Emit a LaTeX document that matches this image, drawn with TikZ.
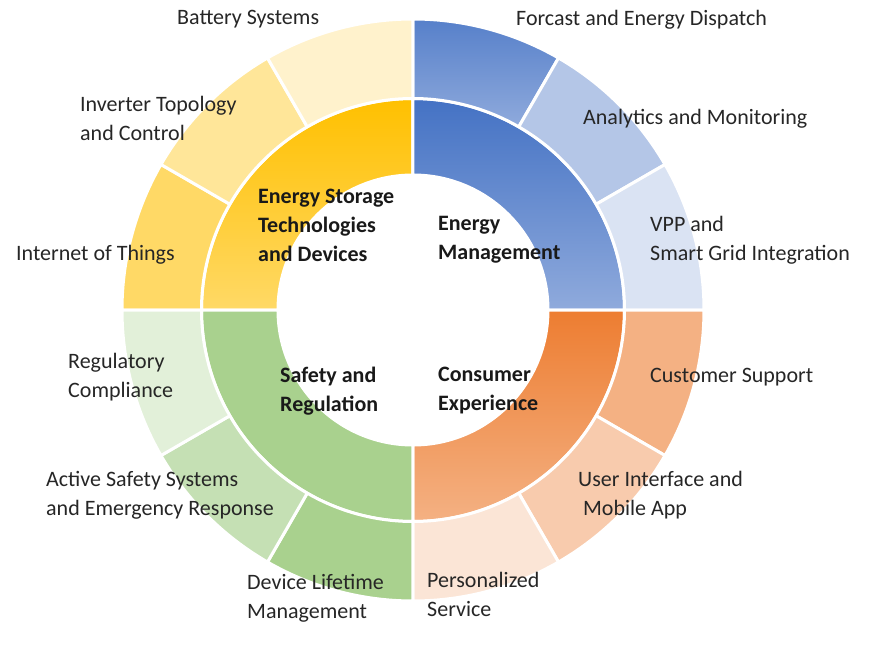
\documentclass[tikz,border=0pt]{standalone}
\usepackage{fontspec}
\setmainfont{Carlito}
\usepackage{xcolor}
\usepackage{tikz}
\usetikzlibrary{calc}

\definecolor{goldA}{HTML}{FFC000}
\definecolor{goldB}{HTML}{FFD966}
\definecolor{goldC}{HTML}{FFE699}
\definecolor{goldD}{HTML}{FFF2CC}
\definecolor{blueA}{HTML}{4472C4}
\definecolor{blueB}{HTML}{8FAADC}
\definecolor{blueC}{HTML}{B4C6E7}
\definecolor{blueD}{HTML}{DAE3F3}
\definecolor{orngA}{HTML}{ED7D31}
\definecolor{orngB}{HTML}{F4B183}
\definecolor{orngC}{HTML}{F8CBAD}
\definecolor{orngD}{HTML}{FBE5D6}
\definecolor{grnB}{HTML}{A9D18E}
\definecolor{grnC}{HTML}{C5E0B4}
\definecolor{grnD}{HTML}{E2F0D9}

\tikzset{
  ringpart/.style={
    draw=white, line width=3pt, line join=round
  },
  segtext/.style={
    anchor=west, align=left, inner sep=0pt,
    font=\fontsize{22}{29}\selectfont, text=black!85
  },
  hubtext/.style={
    segtext, font=\fontsize{22}{29}\selectfont\bfseries, text=black!90
  },
}

% r-in, r-out, start, end, style
\newcommand{\ringseg}[5]{%
  \path[ringpart, #5] (#3:#1) -- (#3:#2)
    arc[start angle=#3, end angle=#4, radius=#2] -- (#4:#1)
    arc[start angle=#4, end angle=#3, radius=#1] -- cycle;}

\begin{document}
\begin{tikzpicture}[x=1pt, y=1pt]
  \useasboundingbox (-413,-336) rectangle (457,310);

  % Inner ring
  \ringseg{135}{211.5}{90}{180}{top color=goldA, bottom color=goldB}
  \ringseg{135}{211.5}{0}{90}{top color=blueA, bottom color=blueB}
  \ringseg{135}{211.5}{-90}{0}{top color=orngA, bottom color=orngB}
  \ringseg{135}{211.5}{180}{270}{fill=grnB}

  % Outer ring
  \ringseg{211.5}{291}{60}{90}{top color=blueA!90!white, bottom color=blueB}
  \foreach \a/\col in {150/goldB, 120/goldC, 90/goldD,
                       30/blueC, 0/blueD,
                       -30/orngB, -60/orngC, -90/orngD,
                       -120/grnB, -150/grnC, -180/grnD}
    \ringseg{211.5}{291}{\a}{\a+30}{fill=\col};

  % Hub labels
  \node[hubtext] (storage) at (-155,84.5) {Energy Storage\\Technologies\\and Devices};
  \node[hubtext] (energymgmt) at (25,70) {Energy\\Management};
  \node[hubtext] (safety) at (-133,-81) {Safety and\\Regulation};
  \node[hubtext] (consumer) at (25,-81) {Consumer\\Experience};

  % Segment labels
  \node[segtext] (battery) at (-236,290.5) {Battery Systems};
  \node[segtext] (inverter) at (-333,191.5) {Inverter Topology\\and Control};
  \node[segtext] (iot) at (-397,55) {Internet of Things};
  \node[segtext] (forecast) at (103,290.5) {Forcast and Energy Dispatch};
  \node[segtext] (analytics) at (170,191) {Analytics and Monitoring};
  \node[segtext] (vpp) at (237,69.5) {VPP and\\Smart Grid Integration};
  \node[segtext] (support) at (237,-67) {Customer Support};
  \node[segtext] (userif) at (165,-185.5) {User Interface and\\\ Mobile App};
  \node[segtext] (personal) at (14,-284.5) {Personalized\\Service};
  \node[segtext] (lifetime) at (-166,-288.5) {Device Lifetime\\Management};
  \node[segtext] (active) at (-367,-185.5) {Active Safety Systems\\and Emergency Response};
  \node[segtext] (regulatory) at (-345,-67.5) {Regulatory\\Compliance};
\end{tikzpicture}
\end{document}
